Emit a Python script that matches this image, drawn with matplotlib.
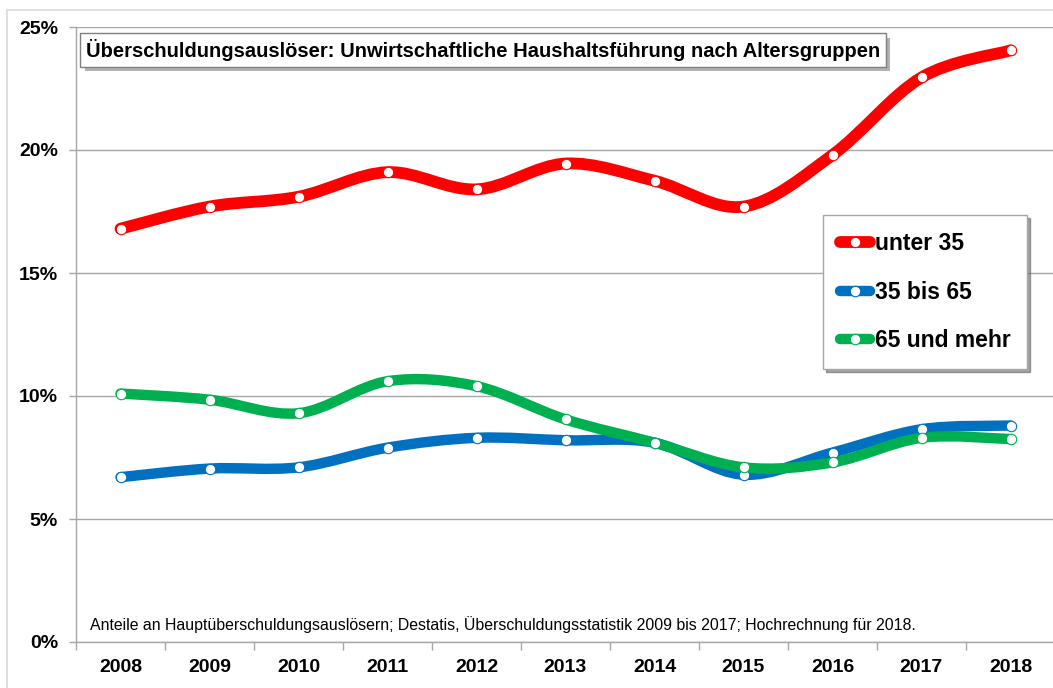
import matplotlib
matplotlib.use("Agg")
import matplotlib.pyplot as plt
from matplotlib.path import Path
from matplotlib.patches import PathPatch, Rectangle
from matplotlib.lines import Line2D
from matplotlib.ticker import FuncFormatter, FixedLocator
import matplotlib.patheffects as pe

plt.rcParams['font.family'] = ['Liberation Sans', 'DejaVu Sans']

# data (shares, in %)
years = ['2008', '2009', '2010', '2011', '2012', '2013', '2014', '2015', '2016', '2017', '2018']
unter_35 = [16.8, 17.7, 18.1, 19.1, 18.4, 19.45, 18.75, 17.7, 19.8, 22.95, 24.05]
bis_65 = [6.7, 7.05, 7.1, 7.9, 8.3, 8.2, 8.1, 6.8, 7.7, 8.65, 8.8]
ueber_65 = [10.1, 9.85, 9.3, 10.6, 10.4, 9.05, 8.1, 7.1, 7.3, 8.3, 8.25]
labels = ['unter 35', '35 bis 65', '65 und mehr']
colors = ['#FF0000', '#0070C0', '#00B050']

title = 'Überschuldungsauslöser: Unwirtschaftliche Haushaltsführung nach Altersgruppen'
note = ('Anteile an Hauptüberschuldungsauslösern; Destatis, Überschuldungsstatistik '
        '2009 bis 2017; Hochrechnung für 2018.')


def smooth_path(xs, ys):
    # Excel-like smoothed line: Catmull-Rom segments as cubic Beziers
    pts = list(zip(xs, ys))
    verts = [pts[0]]
    codes = [Path.MOVETO]
    n = len(pts)
    for i in range(n - 1):
        p0 = pts[max(i - 1, 0)]
        p1 = pts[i]
        p2 = pts[i + 1]
        p3 = pts[min(i + 2, n - 1)]
        c1 = (p1[0] + (p2[0] - p0[0]) / 6, p1[1] + (p2[1] - p0[1]) / 6)
        c2 = (p2[0] - (p3[0] - p1[0]) / 6, p2[1] - (p3[1] - p1[1]) / 6)
        verts += [c1, c2, p2]
        codes += [Path.CURVE4] * 3
    return Path(verts, codes)


fig = plt.figure(figsize=(10.53, 6.88), dpi=100)
ax = fig.add_axes([76 / 1053, 1 - 642 / 688, 979 / 1053, 615 / 688])

# outer chart frame
fig.patches.append(Rectangle((7 / 1053, -0.1), 1.2, 1.1 - 10 / 688,
                             transform=fig.transFigure, fill=False,
                             edgecolor='#D9D9D9', lw=1.2, clip_on=False))

x = list(range(len(years)))
widths = [8.5, 7.5, 7.5]
handles = []
for vals, col, lw, lab in zip([unter_35, bis_65, ueber_65], colors, widths, labels):
    ax.add_patch(PathPatch(smooth_path(x, vals), fill=False, edgecolor=col,
                           lw=lw, capstyle='round', joinstyle='round', zorder=3))
    ax.plot(x, vals, ls='none', marker='o', ms=7.5, mfc='white', mec=col,
            mew=0.8, zorder=4)
    handles.append(Line2D([], [], color=col, lw=lw, solid_capstyle='round',
                          marker='o', ms=7.5, mfc='white', mec=col, mew=0.8))

ax.set_xlim(-0.5, len(years) - 0.5)
ax.set_ylim(0, 25)

ax.yaxis.set_major_locator(FixedLocator([0, 5, 10, 15, 20, 25]))
ax.yaxis.set_major_formatter(FuncFormatter(lambda v, p: f'{v:.0f}%'))
ax.grid(axis='y', color='#A6A6A6', lw=1.0, zorder=0)
ax.set_xticks(x)
ax.set_xticklabels(years)
ax.set_xticks([i - 0.5 for i in range(len(years) + 1)], minor=True)
ax.tick_params(axis='x', which='major', length=0, pad=12, labelsize=14)
ax.tick_params(axis='x', which='minor', length=6, color='#A6A6A6', width=1)
ax.tick_params(axis='y', length=5, color='#A6A6A6', width=1, pad=8, labelsize=14)
for t in ax.get_xticklabels() + ax.get_yticklabels():
    t.set_fontweight('bold')

for s in ['top', 'right']:
    ax.spines[s].set_visible(False)
for s in ['left', 'bottom']:
    ax.spines[s].set_color('#A6A6A6')
    ax.spines[s].set_linewidth(1.0)

t = ax.text(0.0102, 0.9626, title, transform=ax.transAxes, fontsize=14.5,
            fontweight='bold', va='center', ha='left', zorder=6,
            bbox=dict(boxstyle='square,pad=0.28', fc='white', ec='#7F7F7F', lw=1))
t.get_bbox_patch().set_path_effects([
    pe.SimplePatchShadow(offset=(3, -3), shadow_rgbFace='#808080', alpha=0.6),
    pe.Normal()])

ax.text(0.0143, 0.029, note, transform=ax.transAxes, fontsize=11.4,
        va='center', ha='left')

leg = ax.legend(handles, labels, loc='upper left', bbox_to_anchor=(0.763, 0.694),
                prop={'weight': 'bold', 'size': 16.5},
                handlelength=1.3, handletextpad=0.2, labelspacing=1.1,
                borderpad=0.75, borderaxespad=0, fancybox=False, shadow=True,
                framealpha=1, edgecolor='#A6A6A6')
leg.get_frame().set_linewidth(1.0)
leg.set_zorder(6)

fig.savefig('out.png', dpi=100)
